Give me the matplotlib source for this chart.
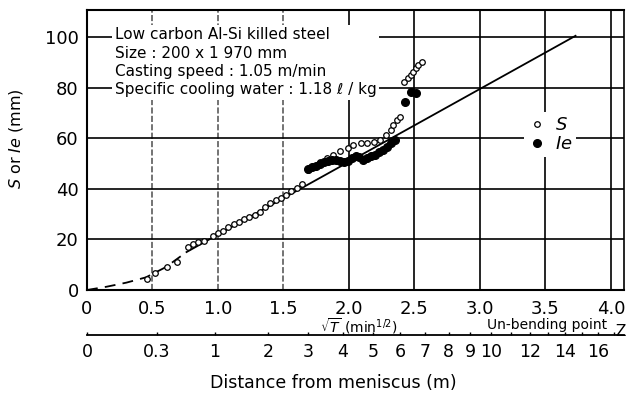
import numpy as np
import matplotlib.pyplot as plt
from matplotlib.lines import Line2D

# S (open) and Ie (filled) against sqrt(T) in min^1/2
s_x = [0.46, 0.52, 0.61, 0.69, 0.77, 0.81, 0.85, 0.89, 0.96, 1.00, 1.04, 1.08,
       1.12, 1.16, 1.20, 1.24, 1.28, 1.32, 1.36, 1.40, 1.44, 1.48, 1.52, 1.56,
       1.60, 1.64, 1.69, 1.73, 1.78, 1.83, 1.88, 1.93, 1.99, 2.03, 2.09, 2.14,
       2.19, 2.24, 2.28, 2.32, 2.34, 2.37, 2.39, 2.42, 2.45, 2.47, 2.49, 2.51,
       2.53, 2.56]
s_y = [4.3, 6.7, 9.1, 11.1, 17.0, 18.3, 19.0, 19.5, 21.5, 22.5, 23.5, 25.0,
       26.0, 27.0, 28.0, 28.8, 29.8, 31.0, 32.8, 34.5, 35.6, 36.5, 37.5, 39.0,
       40.5, 42.0, 47.5, 48.6, 50.6, 52.2, 53.4, 54.9, 56.1, 57.3, 58.1, 58.1,
       58.5, 59.3, 61.3, 63.2, 65.2, 67.2, 68.4, 82.2, 83.8, 85.0, 86.2, 87.7,
       88.9, 90.1]

ie_x = [1.69, 1.72, 1.75, 1.78, 1.81, 1.84, 1.87, 1.90, 1.93, 1.96, 1.99, 2.02,
        2.05, 2.08, 2.11, 2.14, 2.17, 2.20, 2.23, 2.26, 2.29, 2.32, 2.35,
        2.43, 2.47, 2.51]
ie_y = [48.0, 48.5, 49.0, 50.0, 50.5, 51.0, 51.5, 51.5, 51.0, 50.5, 51.0, 52.0,
        53.0, 52.5, 51.5, 52.0, 53.0, 53.5, 54.5, 55.5, 56.5, 58.0, 59.5,
        74.3, 78.3, 78.0]

fit_x = [0.76, 3.73]
fit_y = [15.0, 100.5]
start_x = [0, 0.15, 0.3, 0.45, 0.6, 0.76]
start_y = [0, 1.3, 2.9, 5.0, 9.0, 15.0]

x_ticks = [0, 0.5, 1.0, 1.5, 2.0, 2.5, 3.0, 3.5, 4.0]
x_labels = ["0", "0.5", "1.0", "1.5", "2.0", "2.5", "3.0", "3.5", "4.0"]
y_ticks = [0, 20, 40, 60, 80, 100]
dist_ticks = [0, 0.3, 1, 2, 3, 4, 5, 6, 7, 8, 9, 10, 12, 14, 16]
dist_labels = ["0", "0.3", "1", "2", "3", "4", "5", "6", "7", "8", "9", "10",
               "12", "14", "16"]
dist_minor = [11, 13, 15, 17]
speed = 1.05  # m/min

notes = ["Low carbon Al-Si killed steel",
         "Size : 200 x 1 970 mm",
         "Casting speed : 1.05 m/min",
         "Specific cooling water : 1.18 \u2113 / kg"]


def to_dist(x):
    return np.square(np.clip(x, 0, None)) * speed


def to_root(d):
    return np.sqrt(np.clip(d, 0, None) / speed)


fig = plt.figure(figsize=(6.26, 3.97), dpi=100)
ax = fig.add_axes([87 / 626, 1 - 290 / 397, 537 / 626, 280 / 397])
ax.set_xlim(0, 4.1)
ax.set_ylim(0, 110.7)

# hand drawn grid
for gx in x_ticks[1:]:
    if gx <= 1.5:
        ax.axvline(gx, color="0.3", lw=1.1, ls=(0, (4, 1.5)), zorder=1)
    else:
        ax.axvline(gx, color="black", lw=1.2, zorder=1)
for gy in y_ticks[1:]:
    ax.axhline(gy, color="black", lw=1.2, zorder=1)

ax.plot(start_x, start_y, color="black", lw=1.3, ls=(0, (6, 4)), zorder=3)
ax.plot(fit_x, fit_y, color="black", lw=1.3, zorder=3)
ax.plot(s_x, s_y, "o", ms=4, mfc="white", mec="black", mew=0.9, zorder=4)
ax.plot(ie_x, ie_y, "o", ms=5.5, color="black", zorder=5)

ax.text(0.21, 90, "\n".join(notes), fontsize=11, va="center", ha="left",
        linespacing=1.28, zorder=6,
        bbox=dict(facecolor="white", edgecolor="none", pad=2))

handles = [Line2D([], [], marker="o", ls="none", ms=4, mfc="white",
                  mec="black", mew=0.9),
           Line2D([], [], marker="o", ls="none", ms=5.5, color="black")]
leg = ax.legend(handles, ["$S$", "$Ie$"], loc="center left",
                bbox_to_anchor=(3.27, 61.5), bbox_transform=ax.transData,
                frameon=True, framealpha=1, edgecolor="none", fontsize=13,
                handlelength=1.0, handletextpad=0.5, labelspacing=0.05,
                borderpad=0.2, fancybox=False)
leg.set_zorder(6)

ax.set_xticks(x_ticks)
ax.set_xticklabels(x_labels)
ax.set_yticks(y_ticks)
ax.tick_params(axis="both", length=0, labelsize=13)
ax.tick_params(axis="x", pad=7)
ax.tick_params(axis="y", pad=6)
for side in ["left", "bottom", "top"]:
    ax.spines[side].set_linewidth(1.5)
ax.spines["right"].set_linewidth(1.2)

ax.set_ylabel("$S$ or $Ie$ (mm)", fontsize=11.5)
ax.yaxis.set_label_coords(-0.115, 0.54)

# distance scale below
sec = ax.secondary_xaxis(-0.161, functions=(to_dist, to_root))
sec.set_xticks(dist_ticks)
sec.set_xticklabels(dist_labels)
sec.set_xticks(dist_minor, minor=True)
sec.tick_params(axis="x", which="major", direction="in", length=2.5, width=1,
                labelsize=12.5, pad=6)
sec.tick_params(axis="x", which="minor", direction="in", length=2, width=1)
sec.spines["bottom"].set_linewidth(1.3)

ax.text(0.507, -0.128, r"$\sqrt{T}$ (min$^{1/2}$)", transform=ax.transAxes,
        fontsize=10, ha="center", va="center")
ax.text(0.968, -0.126, "Un-bending point", transform=ax.transAxes,
        fontsize=10, ha="right", va="center")
ax.text(0.993, -0.15, "Z", transform=ax.transAxes, fontsize=11,
        ha="center", va="center", clip_on=False)

fig.text(333 / 626, 1 - 383 / 397, "Distance from meniscus (m)",
         fontsize=12.5, ha="center", va="center")

fig.savefig("out.png", dpi=100)
